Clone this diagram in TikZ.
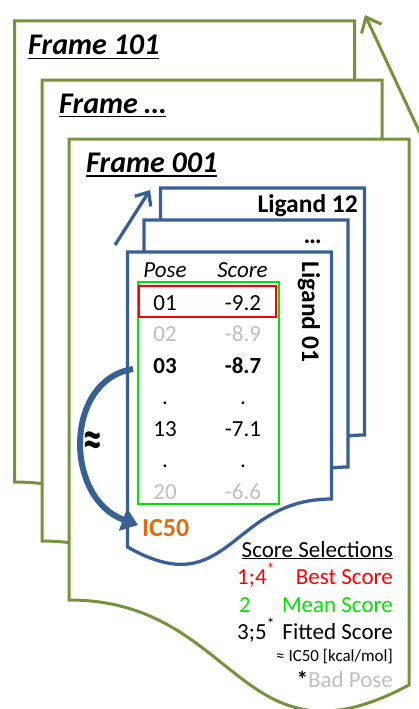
\documentclass[tikz,border=0pt]{standalone}
\usepackage{fontspec}
\setmainfont{Carlito}
\usetikzlibrary{arrows.meta}

\definecolor{framegreen}{RGB}{118,146,60}
\definecolor{ligblue}{RGB}{56,96,146}
\definecolor{boxgreen}{RGB}{0,228,0}
\definecolor{hitred}{RGB}{255,0,0}
\definecolor{icorange}{RGB}{228,108,10}
\definecolor{badgray}{RGB}{191,191,191}

% underlined text: #1 = rule depth below baseline, #2 = rule thickness
\newcommand\ulinetext[3]{\setbox0=\hbox{#3}\rlap{\rule[-#1]{\wd0}{#2}}\box0}

\tikzset{
  framestyle/.style={draw=framegreen, line width=3pt, fill=white, line join=miter},
  ligstyle/.style={draw=ligblue, line width=3.3pt, fill=white, line join=miter},
  % trajectory frame sheet: document outline with a wavy bottom edge
  framesheet/.pic={\path[framestyle] (0,0) -- (340,0) -- (340,546)
      .. controls (170,637) and (170,461) .. (0,461) -- cycle;},
  % ligand sheet: document outline with a wavy bottom edge
  ligsheet/.pic={\path[ligstyle] (0,0) -- (204,0) -- (204,247)
      .. controls (102,247) and (102,353) .. (0,295) -- cycle;},
  title/.style={anchor=base west, inner sep=0pt, font=\bfseries\itshape\fontsize{30}{34}\selectfont},
  ligtitle/.style={inner sep=0pt, font=\bfseries\fontsize{25.5}{28}\selectfont},
  cell/.style={anchor=base, inner sep=0pt, font=\fontsize{23}{26}\selectfont},
  leg/.style={inner sep=0pt, font=\fontsize{23}{26}\selectfont},
  legsmall/.style={inner sep=0pt, font=\fontsize{17}{20}\selectfont},
  openhead/.style={-{Straight Barb[length=13pt,width=22pt]}},
}

\begin{document}
\begin{tikzpicture}[x=1pt,y=-1pt]
\useasboundingbox (0,0) rectangle (419,709);
\clip (0,0) rectangle (419,709);

% stacked trajectory frames
\pic at (14.5,21) {framesheet};
\pic at (42,80) {framesheet};
\pic at (69,139) {framesheet};

\node[title] (f101) at (28,55) {\ulinetext{4.5pt}{1.7pt}{Frame 101}};
\node[title] (fmid) at (59,113) {\ulinetext{4.5pt}{1.7pt}{Frame …}};
\node[title] (f001) at (86,172) {\ulinetext{4.5pt}{1.7pt}{Frame 001}};

% arrow through the frames
\coordinate (gtail) at (426,146);
\coordinate (ghead) at (365,15);
\draw[framegreen, line width=3pt, openhead] (gtail) -- (ghead);

% stacked ligand sheets
\pic at (160.5,188) {ligsheet};
\pic at (144,220) {ligsheet};
\pic at (127.5,252) {ligsheet};

\node[ligtitle, anchor=base east] (lig12) at (358,212) {Ligand 12};
\node[ligtitle, anchor=base east] (ligmid) at (322,243) {…};
\node[ligtitle, rotate=-90] (lig01) at (309,312) {Ligand 01};

% arrow through the ligands
\coordinate (btail) at (115,245);
\coordinate (bhead) at (150,190);
\draw[ligblue, line width=3.3pt, -{Straight Barb[length=11pt,width=19pt]}] (btail) -- (bhead);

% pose / score table
\node[cell, font=\itshape\fontsize{23}{26}\selectfont] (hpose) at (165,277) {Pose};
\node[cell, font=\itshape\fontsize{23}{26}\selectfont] (hscore) at (242.5,277) {Score};

\node[cell] (p01) at (165,310) {01};
\node[cell] (s01) at (243,310) {-9.2};
\node[cell, text=badgray] (p02) at (165,341.5) {02};
\node[cell, text=badgray] (s02) at (243,341.5) {-8.9};
\node[cell, font=\bfseries\fontsize{23}{26}\selectfont] (p03) at (165,373) {03};
\node[cell, font=\bfseries\fontsize{23}{26}\selectfont] (s03) at (243,373) {-8.7};
\node[cell] (pd1) at (165,404.5) {.};
\node[cell] (sd1) at (243,404.5) {.};
\node[cell] (p13) at (165,436) {13};
\node[cell] (s13) at (243,436) {-7.1};
\node[cell] (pd2) at (165,467.5) {.};
\node[cell] (sd2) at (243,467.5) {.};
\node[cell, text=badgray] (p20) at (165,499) {20};
\node[cell, text=badgray] (s20) at (243,499) {-6.6};

% selection boxes
\draw[boxgreen, line width=2pt] (137.7,281.7) rectangle (279,504);
\draw[hitred, line width=2pt] (139.3,286) rectangle (276,317.3);

% fitted score to IC50
\node[inner sep=0pt, anchor=base west, text=icorange, font=\bfseries\fontsize{26}{28}\selectfont] (ic50) at (142,536) {IC50};
\node[inner sep=0pt, font=\bfseries\fontsize{34}{36}\selectfont] (approx) at (93,445) {\scalebox{1.1}[1.6]{≈}};
\coordinate (fitstart) at (133,369);
\coordinate (fittip) at (138,525);
\draw[ligblue, line width=6pt, -{Triangle[length=16pt,width=23pt]}]
  (fitstart) .. controls (64,380) and (64,498) .. (fittip);

% legend
\node[leg, anchor=base east] (legtitle) at (393,557) {\ulinetext{2pt}{1.2pt}{Score Selections}};
\node[leg, anchor=base west, text=hitred] (k1) at (237,584) {1;4\textsuperscript{*}};
\node[leg, anchor=base east, text=hitred] (v1) at (393,584) {Best Score};
\node[leg, anchor=base west, text=boxgreen] (k2) at (239,612) {2};
\node[leg, anchor=base east, text=boxgreen] (v2) at (393,612) {Mean Score};
\node[leg, anchor=base west] (k3) at (237,639) {3;5\textsuperscript{*}};
\node[leg, anchor=base east] (v3) at (393,639) {Fitted Score};
\node[legsmall, anchor=base east] (unit) at (393,661) {≈ IC50 [kcal/mol]};
\node[leg, anchor=base east] (bad) at (393,687) {\textbf{*}\textcolor{badgray}{Bad Pose}};
\end{tikzpicture}
\end{document}
